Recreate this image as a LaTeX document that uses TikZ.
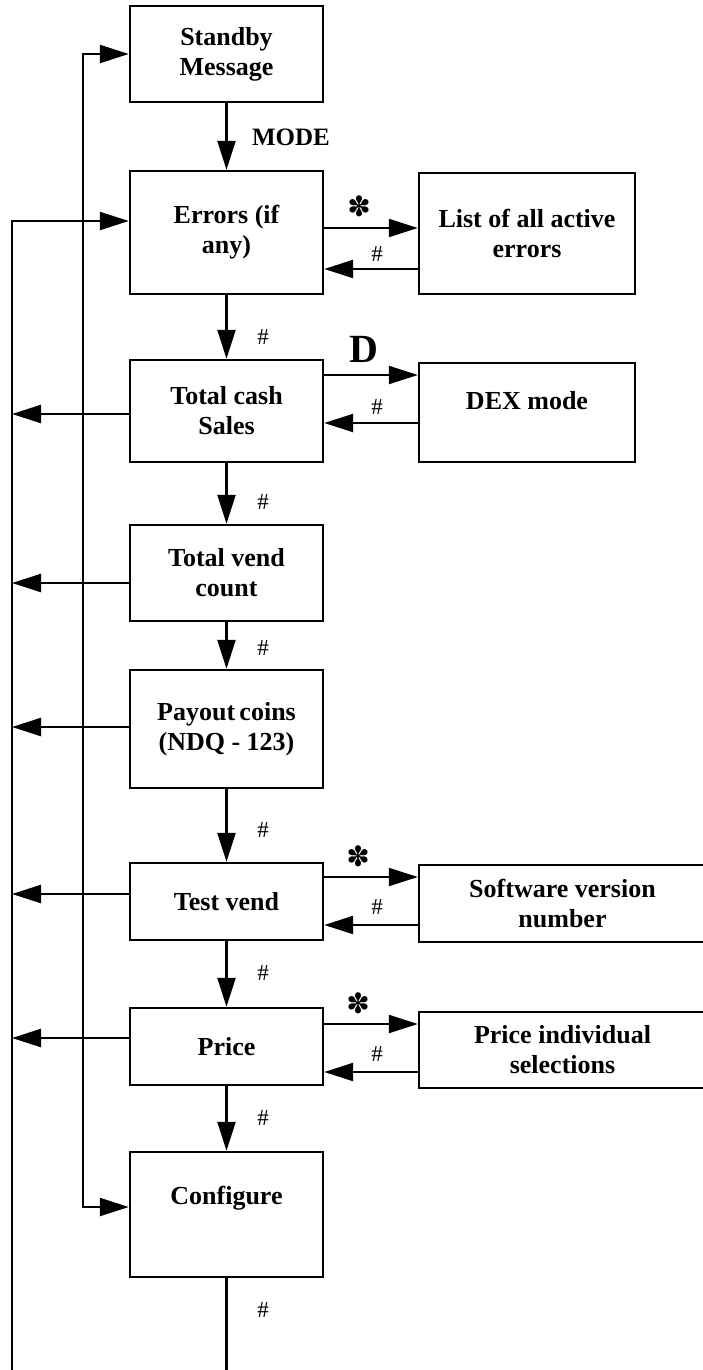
\documentclass[tikz,border=0pt]{standalone}
\usepackage{fontspec}
\setmainfont{Liberation Serif}
\newfontfamily\symfont{DejaVu Sans}
\usetikzlibrary{arrows.meta}
\tikzset{
  box/.style={draw, line width=2.4pt, align=center, inner sep=0pt,
    font=\fontsize{26}{30}\selectfont\bfseries},
  conn/.style={line width=2.3pt},
  arr/.style={conn, -{Triangle[length=29pt,width=18pt]}},
  darr/.style={conn, {Triangle[length=29pt,width=18pt]}-{Triangle[length=29pt,width=18pt]}},
  hashlbl/.style={inner sep=0pt, font=\fontsize{23}{26}\selectfont},
  starlbl/.style={inner sep=0pt, font=\symfont\fontsize{28}{30}\selectfont},
  modelbl/.style={inner sep=0pt, font=\fontsize{25}{28}\selectfont\bfseries},
  dlbl/.style={inner sep=0pt, font=\fontsize{40}{44}\selectfont\bfseries}
}
\begin{document}
\begin{tikzpicture}[x=1pt,y=-1pt]
\useasboundingbox (0,0) rectangle (702,1370);
% main column
\node[box, minimum width=193pt, minimum height=96pt] (std) at (226.5,54) {Standby\\Message};
\node[box, minimum width=193pt, minimum height=123pt] (err) at (226.5,232.5) {Errors (if\\any)};
\node[box, minimum width=193pt, minimum height=102pt] (tcs) at (226.5,411) {Total cash\\Sales};
\node[box, minimum width=193pt, minimum height=96pt] (tvc) at (226.5,573) {Total vend\\count};
\node[box, minimum width=193pt, minimum height=118pt] (pay) at (226.5,729) {Payout\,coins\\(NDQ - 123)};
\node[box, minimum width=193pt, minimum height=77pt] (tv) at (226.5,901.5) {Test vend};
\node[box, minimum width=193pt, minimum height=77pt] (pr) at (226.5,1046.5) {Price};
\node[box, minimum width=193pt, minimum height=125pt] (cfg) at (226.5,1214.5) {Configure\\\strut};
% right column
\node[box, minimum width=216pt, minimum height=121pt] (lst) at (527,233.5) {List of all active\\errors};
\node[box, minimum width=216pt, minimum height=99pt] (dex) at (527,412.5) {DEX mode\\[-14pt]\strut};
\node[box, minimum width=287pt, minimum height=77pt] (sw) at (562.5,903.5) {Software version\\number};
\node[box, minimum width=287pt, minimum height=76pt] (pi) at (562.5,1050) {Price individual\\selections};
% vertical flow
\draw[arr] (std) -- (err);
\draw[arr] (err) -- (tcs);
\draw[arr] (tcs) -- (tvc);
\draw[arr] (tvc) -- (pay);
\draw[arr] (pay) -- (tv);
\draw[arr] (tv) -- (pr);
\draw[arr] (pr) -- (cfg);
\coordinate (cbot) at (226.5,1372);
\draw[conn] (cfg) -- (cbot);
\node[modelbl] (lmode) at (291,137) {MODE};
\node[hashlbl] (h1) at (263,337) {\#};
\node[hashlbl] (h2) at (263,502) {\#};
\node[hashlbl] (h3) at (263,648) {\#};
\node[hashlbl] (h4) at (263,830) {\#};
\node[hashlbl] (h5) at (263,973) {\#};
\node[hashlbl] (h6) at (263,1118) {\#};
\node[hashlbl] (h7) at (263,1310) {\#};
% side branches
\draw[arr] (err.east |- 0,228) -- (lst.west |- 0,228);
\draw[arr] (lst.west |- 0,269) -- (err.east |- 0,269);
\node[starlbl] (s1) at (359,206) {✽};
\node[hashlbl] (b1) at (377,254) {\#};
\draw[arr] (tcs.east |- 0,375) -- (dex.west |- 0,375);
\draw[arr] (dex.west |- 0,423) -- (tcs.east |- 0,423);
\node[dlbl] (dl) at (364,349) {D};
\node[hashlbl] (b2) at (377,407) {\#};
\draw[arr] (tv.east |- 0,877) -- (sw.west |- 0,877);
\draw[arr] (sw.west |- 0,925) -- (tv.east |- 0,925);
\node[starlbl] (s3) at (358,856) {✽};
\node[hashlbl] (b3) at (377,907) {\#};
\draw[arr] (pr.east |- 0,1024) -- (pi.west |- 0,1024);
\draw[arr] (pi.west |- 0,1072) -- (pr.east |- 0,1072);
\node[starlbl] (s4) at (358,1003) {✽};
\node[hashlbl] (b4) at (377,1054) {\#};
% left return lines
\coordinate (L1bot) at (12,1372);
\coordinate (L1top) at (12,221);
\coordinate (L2top) at (83,54);
\coordinate (L2bot) at (83,1207);
\draw[arr] (L1bot) -- (L1top) -- (err.west |- L1top);
\draw[darr] (std.west |- L2top) -- (L2top) -- (L2bot) -- (cfg.west |- L2bot);
\draw[arr] (tcs.west |- 0,414) -- (L1top |- 0,414);
\draw[arr] (tvc.west |- 0,583) -- (L1top |- 0,583);
\draw[arr] (pay.west |- 0,727) -- (L1top |- 0,727);
\draw[arr] (tv.west |- 0,894) -- (L1top |- 0,894);
\draw[arr] (pr.west |- 0,1038) -- (L1top |- 0,1038);
\end{tikzpicture}
\end{document}
